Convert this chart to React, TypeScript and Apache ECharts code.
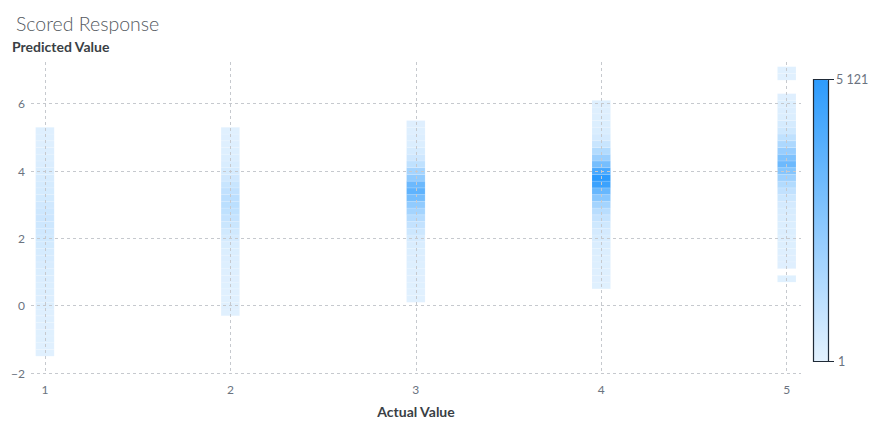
import React, { useEffect, useRef } from "react";
import * as echarts from "echarts";

// Actual values (x positions of the columns)
const actualValues = [1, 2, 3, 4, 5];

// Bin geometry on the predicted-value axis
const BIN_H = 0.2;
const HALF_W = 0.05;

// Counts per bin, listed bottom-up, each with the lower edge of its first bin
const col1Start = -1.5;
const col1 = [110, 115, 130, 140, 150, 170, 180, 190, 215, 240, 250, 280, 310, 340, 390, 420, 490, 550, 590, 650, 680, 630, 570, 500, 440, 410, 350, 320, 270, 255, 230, 180, 165, 160];
const col2Start = -0.3;
const col2 = [100, 105, 110, 115, 140, 150, 160, 200, 210, 255, 310, 415, 560, 715, 870, 1020, 1130, 1125, 975, 770, 565, 410, 310, 260, 205, 165, 150, 110];
const col3Start = 0.1;
const col3 = [105, 110, 140, 150, 160, 200, 210, 255, 310, 410, 665, 920, 1280, 1790, 2300, 3070, 3690, 3330, 2310, 1790, 1030, 620, 410, 260, 210, 165, 150];
const col4Start = 0.5;
const col4 = [145, 150, 160, 200, 205, 255, 310, 360, 460, 615, 870, 1230, 1790, 2560, 3480, 4710, 5121, 4350, 3070, 2050, 1380, 770, 460, 310, 255, 205, 160, 155];
const col5Start = 1.1;
const col5 = [150, 150, 160, 200, 205, 255, 260, 310, 360, 460, 665, 975, 1380, 1950, 2660, 3330, 2820, 2150, 1540, 1020, 615, 410, 260, 210, 200, 150];
const col5HighStart = 6.7;
const col5High = [120, 110];
const col5LowStart = 0.7;
const col5Low = [130];

const yTicks = [-2, 0, 2, 4, 6];
const countMin = 1;
const countMax = 5121;
const countLabels = ["5 121", "1"];

const FONT = "Lato, 'Noto Sans', sans-serif";

function buildColumn(x: number, start: number, counts: number[]) {
  return counts.map((c, i) => [x, Math.round((start + i * BIN_H) * 10) / 10, c]);
}

export default function App() {
  const ref = useRef<HTMLDivElement>(null);

  useEffect(() => {
    if (!ref.current) return;
    const chart = echarts.init(ref.current, null, { renderer: "svg" });

    const data = [
      ...buildColumn(actualValues[0], col1Start, col1),
      ...buildColumn(actualValues[1], col2Start, col2),
      ...buildColumn(actualValues[2], col3Start, col3),
      ...buildColumn(actualValues[3], col4Start, col4),
      ...buildColumn(actualValues[4], col5Start, col5),
      ...buildColumn(actualValues[4], col5HighStart, col5High),
      ...buildColumn(actualValues[4], col5LowStart, col5Low),
    ];

    const gridLine = { color: "#c6c9ce", width: 1, type: [3, 3] as any };

    chart.setOption({
      animation: false,
      backgroundColor: "#ffffff",
      textStyle: { fontFamily: FONT },
      title: {
        text: "Scored Response",
        left: 11,
        top: 8,
        textStyle: { fontFamily: FONT, fontSize: 19.5, fontWeight: 300, color: "#555a61" },
      },
      grid: { left: 31, right: 78, top: 62, bottom: 68, containLabel: false },
      xAxis: {
        type: "value",
        min: 0.925,
        max: 5.077,
        z: 3,
        name: "Actual Value",
        nameLocation: "middle",
        nameGap: 31,
        nameTextStyle: { fontFamily: FONT, fontSize: 14, fontWeight: "bold", color: "#3a3f45" },
        axisLine: { show: false },
        axisTick: { show: false },
        axisLabel: {
          showMinLabel: false,
          showMaxLabel: false,
          margin: 10,
          color: "#6b7380",
          fontSize: 12,
          fontFamily: FONT,
        },
        splitLine: { show: true, showMinLine: false, showMaxLine: false, lineStyle: gridLine },
      },
      yAxis: {
        type: "value",
        min: yTicks[0],
        max: 7.24,
        interval: 2,
        z: 3,
        axisLine: { show: false },
        axisTick: { show: false },
        axisLabel: {
          showMaxLabel: false,
          margin: 6,
          color: "#6b7380",
          fontSize: 12,
          fontFamily: FONT,
          formatter: (v: number) => String(v).replace("-", "\u2212"),
        },
        splitLine: { show: true, showMaxLine: false, lineStyle: gridLine },
      },
      visualMap: {
        type: "continuous",
        min: countMin,
        max: countMax,
        dimension: 2,
        calculable: false,
        left: 813,
        top: 79,
        padding: 0,
        itemWidth: 15,
        itemHeight: 283,
        inRange: { color: ["#e4f2fe", "#2c9bfd"] },
        textStyle: { color: "#6b7380" },
      },
      graphic: [
        {
          type: "text",
          left: 12,
          top: 39,
          style: { text: "Predicted Value", font: `bold 14px ${FONT}`, fill: "#3a3f45" },
        },
        {
          type: "rect",
          shape: { x: 813.5, y: 79.5, width: 15, height: 282 },
          style: { fill: "none", stroke: "#1f2a37", lineWidth: 1.2 },
          z: 10,
        },
        {
          type: "line",
          shape: { x1: 828, y1: 79.5, x2: 834, y2: 79.5 },
          style: { stroke: "#1f2a37", lineWidth: 1 },
          z: 10,
        },
        {
          type: "line",
          shape: { x1: 828, y1: 361.5, x2: 834, y2: 361.5 },
          style: { stroke: "#1f2a37", lineWidth: 1 },
          z: 10,
        },
        {
          type: "text",
          x: 836,
          y: 79,
          style: { text: countLabels[0], font: `12.5px ${FONT}`, fill: "#6b7380", verticalAlign: "middle", align: "left" },
          z: 10,
        },
        {
          type: "text",
          x: 838,
          y: 361,
          style: { text: countLabels[1], font: `12.5px ${FONT}`, fill: "#6b7380", verticalAlign: "middle", align: "left" },
          z: 10,
        },
      ],
      series: [
        {
          type: "custom",
          name: "Count",
          encode: { x: 0, y: 1 },
          data,
          renderItem: (params: any, api: any) => {
            const x = api.value(0);
            const y = api.value(1);
            const p0 = api.coord([x - HALF_W, y + BIN_H]);
            const p1 = api.coord([x + HALF_W, y]);
            return {
              type: "rect",
              shape: { x: p0[0], y: p0[1], width: p1[0] - p0[0], height: p1[1] - p0[1] },
              style: {
                fill: api.visual("color"),
                stroke: "rgba(255,255,255,0.25)",
                lineWidth: 0.5,
              },
            };
          },
        },
      ],
    });

    return () => chart.dispose();
  }, []);

  return (
    <div
      ref={ref}
      style={{ position: "fixed", left: 0, top: 0, width: 879, height: 441 }}
    />
  );
}
